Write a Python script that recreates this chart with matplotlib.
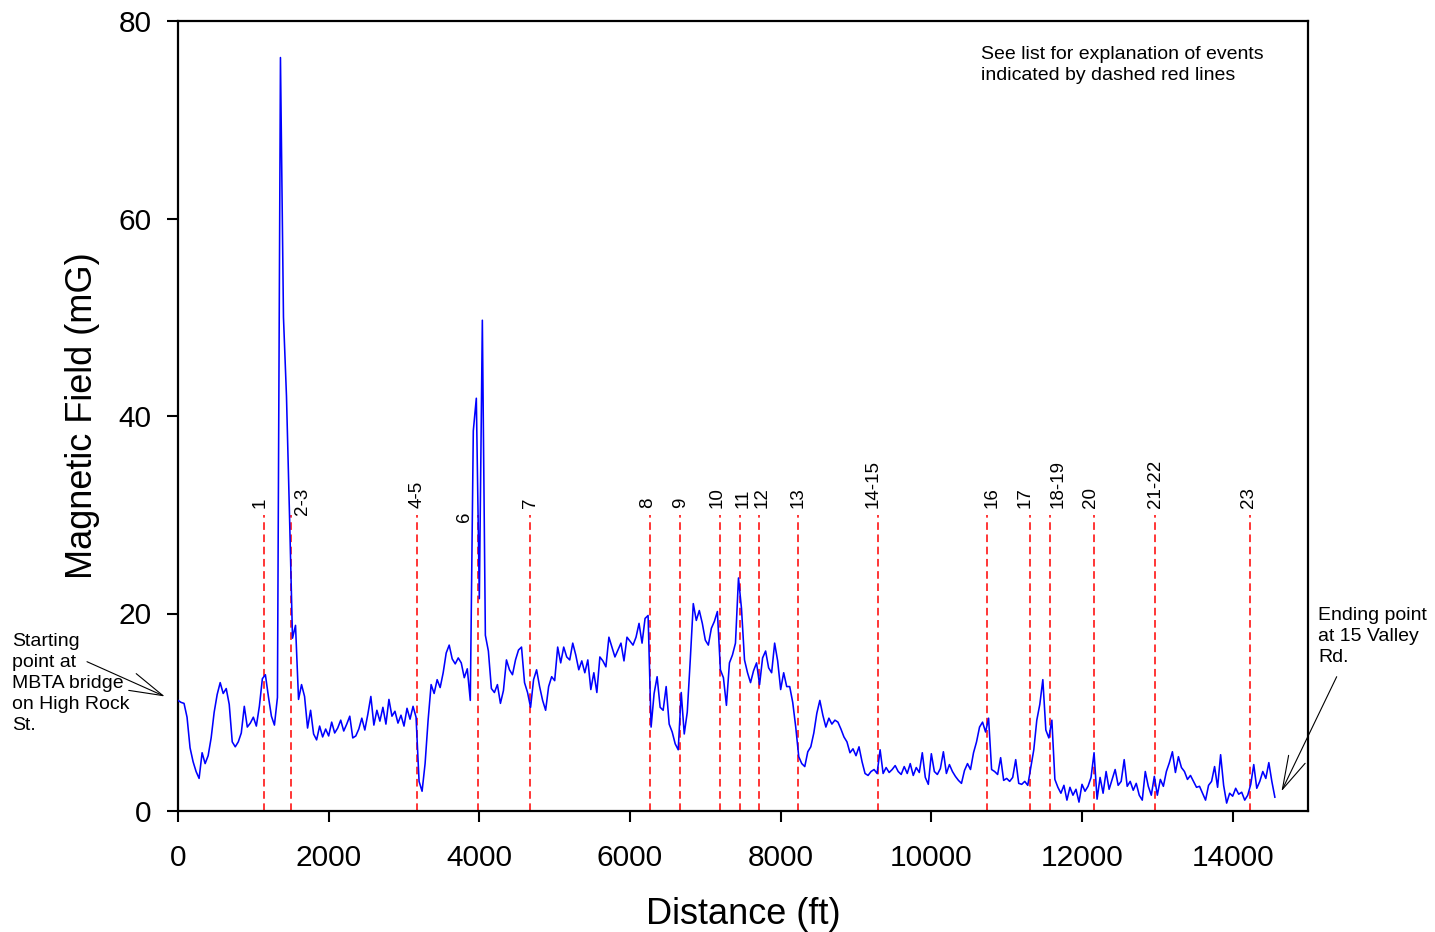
import numpy as np
import matplotlib
matplotlib.use('Agg')
import matplotlib.pyplot as plt

# Magnetic field readings (mG), one every 40 ft along the walk
field_mG = [
    11.2, 11.0, 10.9, 9.5, 6.4, 5.0, 4.0, 3.3, 5.9, 4.8,
    5.6, 7.4, 10.0, 11.8, 13.0, 11.9, 12.4, 10.8, 7.0, 6.5,
    7.0, 7.9, 10.6, 8.5, 8.9, 9.5, 8.6, 10.6, 13.4, 13.8,
    11.6, 9.6, 8.7, 11.5, 76.3, 50.0, 42.0, 30.0, 17.5, 18.8,
    11.3, 12.8, 11.6, 8.4, 10.2, 7.8, 7.2, 8.6, 7.5, 8.3,
    7.6, 9.0, 7.9, 8.4, 9.2, 8.1, 8.8, 9.6, 7.4, 7.6,
    8.3, 9.4, 8.2, 9.8, 11.6, 8.7, 10.2, 9.1, 10.5, 8.8,
    11.3, 9.6, 10.1, 8.9, 9.7, 8.6, 10.4, 9.3, 10.6, 9.5,
    3.0, 2.0, 4.8, 9.2, 12.8, 11.9, 13.3, 12.5, 14.0, 16.0,
    16.8, 15.4, 14.9, 15.5, 15.0, 13.5, 14.4, 11.2, 38.5, 41.8,
    21.5, 49.7, 17.8, 16.2, 12.4, 12.0, 12.8, 10.9, 12.2, 15.3,
    14.3, 13.8, 15.3, 16.3, 16.6, 13.0, 12.0, 10.5, 13.3, 14.3,
    12.6, 11.2, 10.2, 12.6, 13.6, 13.2, 16.6, 15.0, 16.6, 15.6,
    15.3, 17.0, 15.8, 14.3, 15.2, 14.0, 15.3, 12.3, 14.0, 12.0,
    15.6, 15.2, 14.6, 17.6, 16.6, 15.6, 16.3, 17.0, 15.2, 17.6,
    17.2, 16.8, 17.6, 19.0, 17.0, 19.5, 19.8, 8.5, 11.9, 13.6,
    10.5, 10.2, 12.6, 8.8, 8.0, 6.8, 6.2, 12.0, 7.8, 10.0,
    15.3, 21.0, 19.3, 20.3, 19.0, 17.3, 16.8, 18.5, 19.2, 20.2,
    14.3, 13.5, 10.7, 15.0, 15.8, 17.0, 23.6, 20.5, 15.3, 14.0,
    13.0, 14.2, 15.0, 12.8, 15.5, 16.2, 14.5, 14.0, 17.0, 15.2,
    12.3, 14.0, 12.6, 12.6, 11.0, 8.5, 5.5, 4.8, 4.5, 6.0,
    6.5, 7.9, 9.9, 11.2, 9.7, 8.5, 9.4, 8.8, 9.2, 9.0,
    8.3, 7.5, 7.0, 5.9, 6.3, 5.6, 6.5, 5.0, 3.8, 3.6,
    4.0, 4.2, 3.8, 6.2, 3.8, 4.4, 3.9, 4.2, 4.6, 4.0,
    3.7, 4.5, 3.8, 4.8, 3.6, 4.4, 3.9, 5.9, 3.4, 2.7,
    5.8, 4.0, 3.7, 4.3, 6.0, 3.8, 4.7, 4.0, 3.5, 3.1,
    2.8, 4.1, 4.8, 4.2, 5.9, 7.0, 8.5, 9.0, 8.0, 9.4,
    4.2, 4.0, 3.7, 5.4, 3.1, 3.3, 3.0, 3.4, 5.2, 2.8,
    2.7, 3.0, 2.6, 4.4, 6.2, 9.2, 10.8, 13.3, 8.2, 7.4,
    9.2, 3.2, 2.4, 1.8, 2.6, 1.1, 2.4, 1.6, 2.2, 0.9,
    2.7, 2.0, 2.5, 3.4, 5.9, 1.2, 3.4, 1.8, 4.0, 2.2,
    3.2, 4.2, 2.6, 3.0, 5.2, 2.5, 3.0, 2.1, 2.8, 1.6,
    1.1, 4.0, 2.5, 1.6, 3.5, 1.6, 3.2, 2.5, 4.0, 4.9,
    6.0, 3.9, 5.5, 4.4, 4.0, 3.2, 3.6, 3.0, 2.4, 2.5,
    1.8, 1.1, 2.6, 3.0, 4.5, 2.4, 5.7, 2.6, 0.8, 1.8,
    1.5, 2.3, 1.7, 1.9, 1.1, 1.6, 2.7, 4.7, 2.3, 3.0,
    4.0, 3.3, 4.9, 3.0, 1.4,
]
sample_step_ft = 40
distance_ft = np.arange(len(field_mG)) * sample_step_ft

event_labels = ["1", "2-3", "4-5", "6", "7", "8", "9", "10", "11", "12",
                "13", "14-15", "16", "17", "18-19", "20", "21-22", "23"]
event_distance_ft = [1142, 1501, 3174, 3984, 4675, 6268, 6667, 7198, 7463, 7716,
                     8234, 9296, 10744, 11315, 11580, 12165, 12975, 14236]
event_line_top = 30

x_ticks = [0, 2000, 4000, 6000, 8000, 10000, 12000, 14000]
y_ticks = [0, 20, 40, 60, 80]

# label placement tweaks (offset in ft, y position)
label_dx = {"1": -50, "2-3": 146, "6": -186, "8": -40, "10": -40, "11": 40,
            "12": 40, "14-15": -66, "16": 66, "17": -66, "18-19": 106, "20": -50,
            "23": -25}
label_y = {"6": 29.3, "2-3": 30.0}

plt.rcParams['font.family'] = ['Liberation Sans', 'DejaVu Sans']

fig = plt.figure(figsize=(14.35, 9.32), dpi=100)
ax = fig.add_axes([178 / 1435, 1 - 811 / 932, 1130 / 1435, 790 / 932])

ax.plot(distance_ft, field_mG, color='#0000ff', lw=1.15, zorder=3)
ax.vlines(event_distance_ft, 0, event_line_top, colors='#ff0000',
          linestyles=(0, (5, 3)), lw=1.1, zorder=2)
for lab, xv in zip(event_labels, event_distance_ft):
    ax.text(xv + label_dx.get(lab, 0), label_y.get(lab, 30.7), lab,
            rotation=90, ha='center', va='bottom', fontsize=13.5)

ax.set_xlim(0, 15000)
ax.set_ylim(0, 80)
ax.set_xticks(x_ticks)
ax.set_yticks(y_ticks)
ax.tick_params(axis='both', direction='out', length=8, width=1.5,
               labelsize=21.5, pad=11)
ax.tick_params(axis='x', pad=16)
for sp in ax.spines.values():
    sp.set_linewidth(1.6)

ax.set_xlabel('Distance (ft)', fontsize=26, labelpad=18)
ax.set_ylabel('Magnetic Field (mG)', fontsize=26, labelpad=13)

ax.text(0.711, 0.968, 'See list for explanation of events\nindicated by dashed red lines',
        transform=ax.transAxes, fontsize=14, ha='left', va='top', linespacing=1.3)

fig.text(12 / 1435, 1 - 633 / 932, 'Starting\npoint at\nMBTA bridge\non High Rock\nSt.',
         fontsize=14, ha='left', va='top', linespacing=1.3)
fig.text(1318 / 1435, 1 - 607 / 932, 'Ending point\nat 15 Valley\nRd.',
         fontsize=14, ha='left', va='top', linespacing=1.3)

arrow_kw = dict(arrowstyle='->, head_length=1.2, head_width=0.33', lw=0.8,
                color='black', mutation_scale=20, shrinkA=0, shrinkB=0)
ax.annotate('', xy=(-175, 11.6), xycoords='data',
            xytext=(87 / 1435, 1 - 661.7 / 932), textcoords='figure fraction',
            arrowprops=arrow_kw, annotation_clip=False)
ax.annotate('', xy=(14648, 2.0), xycoords='data',
            xytext=(1336.7 / 1435, 1 - 676.7 / 932), textcoords='figure fraction',
            arrowprops=arrow_kw, annotation_clip=False)

fig.savefig('out.png', dpi=100)
